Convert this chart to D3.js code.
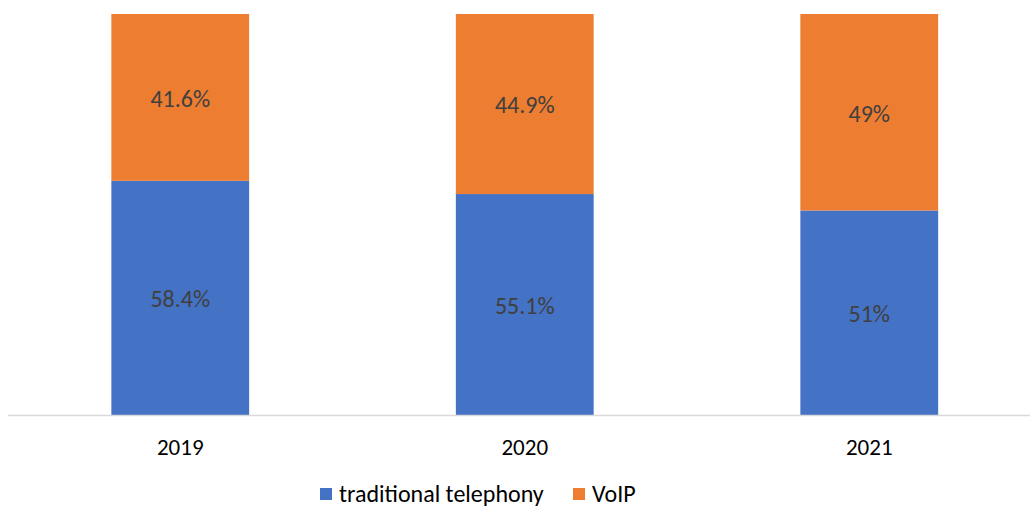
<!DOCTYPE html>
<html><head><meta charset="utf-8">
<script src="https://cdn.jsdelivr.net/npm/d3@7"></script>
<style>body{margin:0;background:#fff}svg{display:block}</style>
</head><body>
<script>
const categories = ["2019", "2020", "2021"];
const traditional = [58.4, 55.1, 51];
const voip = [41.6, 44.9, 49];
const seriesNames = ["traditional telephony", "VoIP"];
const colors = ["#4472C4", "#ED7D31"];

const W = 1030, H = 507;
const svg = d3.select("body").append("svg").attr("width", W).attr("height", H);
const font = "Carlito, 'Open Sans', 'Liberation Sans', sans-serif";

const x = d3.scaleBand().domain(categories).range([8, 1041.5]).paddingInner(0.6).paddingOuter(0.3);
const y = d3.scaleLinear().domain([0, 100]).range([415, 14]);

const rows = categories.map((c, i) => ({cat: c, traditional: traditional[i], voip: voip[i]}));
const stack = d3.stack().keys(["traditional", "voip"])(rows);

stack.forEach((layer, li) => {
  const g = svg.append("g");
  g.selectAll("rect").data(layer).join("rect")
    .attr("x", d => x(d.data.cat))
    .attr("width", x.bandwidth())
    .attr("y", d => y(d[1]))
    .attr("height", d => y(d[0]) - y(d[1]))
    .attr("fill", colors[li]);
  g.selectAll("text").data(layer).join("text")
    .attr("x", d => x(d.data.cat) + x.bandwidth() / 2)
    .attr("y", d => (y(d[0]) + y(d[1])) / 2 + 1)
    .attr("dy", "0.35em")
    .attr("text-anchor", "middle")
    .attr("font-family", font)
    .attr("font-size", 24)
    .attr("fill", "#404040")
    .text(d => (d[1] - d[0]) + "%");
});

svg.append("line").attr("x1", 8).attr("x2", W).attr("y1", 415.5).attr("y2", 415.5)
  .attr("stroke", "#d9d9d9").attr("stroke-width", 1.5);

const ax = svg.append("g").attr("transform", "translate(0,415)")
  .call(d3.axisBottom(x).tickSize(0).tickPadding(0));
ax.select(".domain").remove();
ax.selectAll("text").attr("font-family", font).attr("font-size", 23)
  .attr("fill", "#000").attr("y", 32).attr("dy", "0.35em");

const legend = svg.append("g");
const lx = [320, 573];
seriesNames.forEach((n, i) => {
  legend.append("rect").attr("x", lx[i]).attr("y", 488).attr("width", 12).attr("height", 12).attr("fill", colors[i]);
  legend.append("text").attr("x", lx[i] + 19).attr("y", 494).attr("dy", "0.35em")
    .attr("font-family", font).attr("font-size", 24).attr("fill", "#000").text(n);
});
</script>
</body></html>
